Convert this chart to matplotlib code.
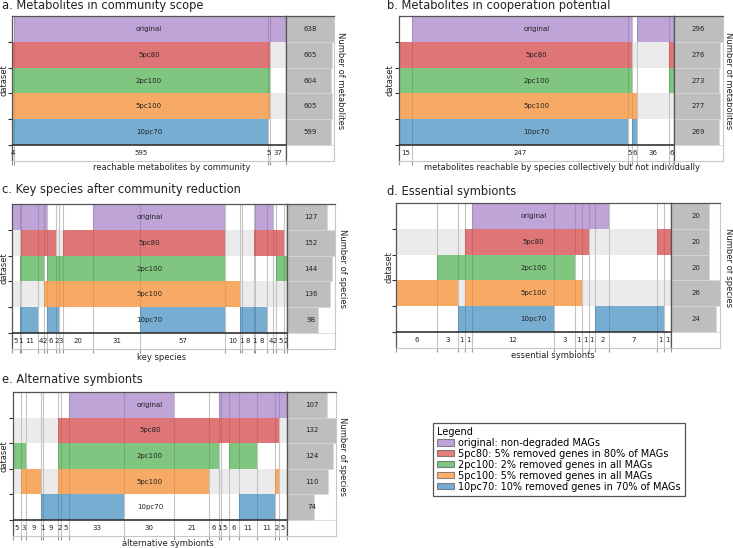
import matplotlib
matplotlib.use('Agg')
import matplotlib.pyplot as plt
from matplotlib.patches import Patch
import numpy as np

plt.rcParams['font.family'] = ['DejaVu Sans']

datasets = ['original', '5pc80', '2pc100', '5pc100', '10pc70']
colors = ['#9467bd', '#d62728', '#2ca02c', '#ff7f0e', '#1f77b4']
legend_labels = ['original: non-degraded MAGs',
                 '5pc80: 5% removed genes in 80% of MAGs',
                 '2pc100: 2% removed genes in all MAGs',
                 '5pc100: 5% removed genes in all MAGs',
                 '10pc70: 10% removed genes in 70% of MAGs']

# ---- panel a: metabolites in community scope
a_counts = [4, 595, 5, 37]
a_member = [[0, 1, 1, 1],
            [1, 1, 1, 0],
            [1, 1, 1, 0],
            [1, 1, 1, 0],
            [1, 1, 0, 0]]
a_totals = [638, 605, 604, 605, 599]

# ---- panel b: metabolites in cooperation potential
b_counts = [15, 247, 5, 6, 36, 6]
b_member = [[0, 1, 1, 0, 1, 1],
            [1, 1, 1, 0, 0, 1],
            [1, 1, 1, 0, 0, 1],
            [1, 1, 1, 1, 0, 0],
            [1, 1, 0, 1, 0, 0]]
b_totals = [296, 276, 273, 277, 269]

# ---- panel c: key species after community reduction
c_counts = [5, 1, 11, 4, 2, 6, 2, 3, 20, 31, 57, 10, 1, 8, 1, 8, 4, 2, 5, 2]
c_member = [[1, 1, 1, 1, 1, 0, 0, 0, 0, 1, 1, 0, 0, 0, 0, 1, 1, 0, 0, 0],
            [0, 0, 1, 1, 1, 1, 0, 0, 1, 1, 1, 0, 0, 0, 1, 1, 1, 1, 1, 0],
            [0, 1, 1, 1, 0, 1, 1, 1, 1, 1, 1, 0, 0, 0, 0, 0, 0, 0, 1, 1],
            [0, 0, 0, 0, 1, 1, 1, 1, 1, 1, 1, 1, 0, 0, 0, 0, 0, 0, 0, 0],
            [0, 1, 1, 0, 0, 1, 1, 0, 0, 0, 1, 0, 1, 1, 1, 1, 0, 0, 0, 0]]
c_totals = [127, 152, 144, 136, 98]

# ---- panel d: essential symbionts
d_counts = [6, 3, 1, 1, 12, 3, 1, 1, 1, 2, 7, 1, 1]
d_member = [[0, 0, 0, 0, 1, 1, 1, 1, 1, 1, 0, 0, 0],
            [0, 0, 0, 1, 1, 1, 1, 1, 0, 0, 0, 1, 1],
            [0, 1, 1, 1, 1, 1, 0, 0, 0, 0, 0, 0, 0],
            [1, 1, 0, 1, 1, 1, 1, 0, 0, 0, 0, 0, 0],
            [0, 0, 1, 1, 1, 0, 0, 0, 0, 1, 1, 1, 0]]
d_totals = [20, 20, 20, 26, 24]

# ---- panel e: alternative symbionts
e_counts = [5, 3, 9, 1, 9, 2, 5, 33, 30, 21, 6, 1, 5, 6, 11, 11, 2, 5]
e_member = [[0, 0, 0, 0, 0, 0, 0, 1, 1, 0, 0, 1, 1, 1, 1, 1, 1, 1],
            [0, 0, 0, 0, 0, 1, 1, 1, 1, 1, 1, 1, 1, 1, 1, 1, 1, 0],
            [1, 1, 0, 0, 0, 1, 1, 1, 1, 1, 1, 0, 0, 1, 1, 0, 0, 0],
            [0, 1, 1, 0, 0, 1, 1, 1, 1, 1, 0, 0, 0, 0, 0, 0, 1, 0],
            [0, 0, 0, 1, 1, 1, 1, 1, 0, 0, 0, 0, 0, 0, 1, 1, 0, 0]]
e_totals = [107, 132, 124, 110, 74]

W, H = 733, 548
fig = plt.figure(figsize=(W / 100, H / 100), dpi=100)


def px_axes(x0, x1, y0, y1):
    return fig.add_axes([x0 / W, 1 - y1 / H, (x1 - x0) / W, (y1 - y0) / H])


STRIP = 0.62
DARK = '#555555'


def draw_panel(geom, counts, member, totals, title, xlabel, rlabel,
               title_pos, xlabel_pos, ylabel_x, rlabel_x):
    x0, xm, x1, yt, yb = geom
    ax = px_axes(x0, xm, yt, yb)
    axr = px_axes(xm, x1, yt, yb)
    counts = np.asarray(counts)
    edges = np.concatenate([[0], np.cumsum(counts)])
    T = edges[-1]
    ax.set_xlim(0, T)
    ax.set_ylim(5 + STRIP, 0)
    for i in (1, 3):
        ax.axhspan(i, i + 1, color='#ebebeb', zorder=0, lw=0)
    for e in edges[1:-1]:
        ax.axvline(e, color='#c4c4c4', lw=0.8, zorder=1)
    for i, row in enumerate(member):
        j = 0
        n = len(row)
        while j < n:
            if row[j]:
                k = j
                while k + 1 < n and row[k + 1]:
                    k += 1
                ax.barh(i + 0.5, edges[k + 1] - edges[j], left=edges[j], height=1,
                        color=colors[i], alpha=0.6, lw=0, zorder=2)
                j = k + 1
            else:
                j += 1
        ax.text(T / 2, i + 0.5, datasets[i], ha='center', va='center',
                fontsize=5, color='#222222', zorder=5)
    ax.axhline(5, color='#333333', lw=1.2, zorder=4)
    for j, c in enumerate(counts):
        ax.text(edges[j] + c / 2, 5 + STRIP / 2, str(c), ha='center', va='center',
                fontsize=5, color='#222222', zorder=5)
    ax.set_xticks(edges)
    ax.set_xticklabels([])
    ax.tick_params(axis='x', length=3, color='#999999', width=0.8)
    ax.set_yticks([1, 2, 3, 4, 5])
    ax.set_yticklabels([])
    ax.tick_params(axis='y', length=3, color='#333333', width=0.8)
    for s in ('top', 'left', 'right'):
        ax.spines[s].set_color(DARK)
        ax.spines[s].set_linewidth(0.9)
    ax.spines['bottom'].set_color('#c8c8c8')
    ax.spines['bottom'].set_linewidth(0.8)

    m = max(totals)
    axr.set_xlim(0, m)
    axr.set_ylim(5 + STRIP, 0)
    axr.barh(np.arange(5) + 0.5, totals, height=1, color='#bebebe', lw=0.4,
             edgecolor='#d8d8d8', zorder=2)
    for i, t in enumerate(totals):
        axr.text(m / 2, i + 0.5, str(t), ha='center', va='center', fontsize=5,
                 color='#222222', zorder=5)
    axr.set_xticks([])
    axr.set_yticks([])
    axr.spines['top'].set_color(DARK)
    axr.spines['left'].set_color(DARK)
    axr.spines['top'].set_linewidth(0.9)
    axr.spines['left'].set_linewidth(0.9)
    axr.spines['right'].set_color('#c8c8c8')
    axr.spines['bottom'].set_color('#c8c8c8')
    axr.axhline(5, color='#d8d8d8', lw=0.6)

    rows_mid = yt + (yb - yt) * 2.5 / (5 + STRIP)
    fig.text(title_pos[0] / W, 1 - title_pos[1] / H, title, fontsize=8.3,
             ha='left', va='baseline', color='#222222')
    fig.text(xlabel_pos[0] / W, 1 - xlabel_pos[1] / H, xlabel, fontsize=6,
             ha='center', va='center', color='#222222')
    fig.text(ylabel_x / W, 1 - rows_mid / H, 'dataset', fontsize=6,
             rotation=90, ha='center', va='center', color='#222222')
    fig.text(rlabel_x / W, 1 - rows_mid / H, rlabel, fontsize=6,
             rotation=270, ha='center', va='center', color='#222222')


draw_panel((12, 286, 334, 16, 161), a_counts, a_member, a_totals,
           'a. Metabolites in community scope', 'reachable metabolites by community',
           'Number of metabolites', (2, 9.5), (172, 167.5), 4, 340)
draw_panel((399, 674, 723, 16, 161), b_counts, b_member, b_totals,
           'b. Metabolites in cooperation potential',
           'metabolites reachable by species collectively but not individually',
           'Number of metabolites', (387, 9.5), (562, 167.5), 390, 728)
draw_panel((12, 287, 335, 204, 349), c_counts, c_member, c_totals,
           'c. Key species after community reduction', 'key species',
           'Number of species', (2, 193), (162, 357), 4, 343)
draw_panel((396, 671, 720, 203, 348), d_counts, d_member, d_totals,
           'd. Essential symbionts', 'essential symbionts',
           'Number of species', (387, 195), (553, 355), 389, 729)
draw_panel((13, 287, 336, 392, 536), e_counts, e_member, e_totals,
           'e. Alternative symbionts', 'alternative symbionts',
           'Number of species', (2, 383), (168, 543), 4, 343)

handles = [Patch(facecolor=c, alpha=0.6, edgecolor='#444444', lw=0.8) for c in colors]
leg = fig.legend(handles, legend_labels, loc='upper left',
                 bbox_to_anchor=(433 / W, 1 - 423 / H), borderaxespad=0,
                 title='Legend', fontsize=7, title_fontsize=7, alignment='left',
                 fancybox=False, edgecolor='#555555', framealpha=1,
                 handlelength=1.8, handleheight=0.6, labelspacing=0.1,
                 handletextpad=0.4, borderpad=0.4)
leg.get_frame().set_linewidth(0.9)

fig.savefig('out.png', dpi=100)
